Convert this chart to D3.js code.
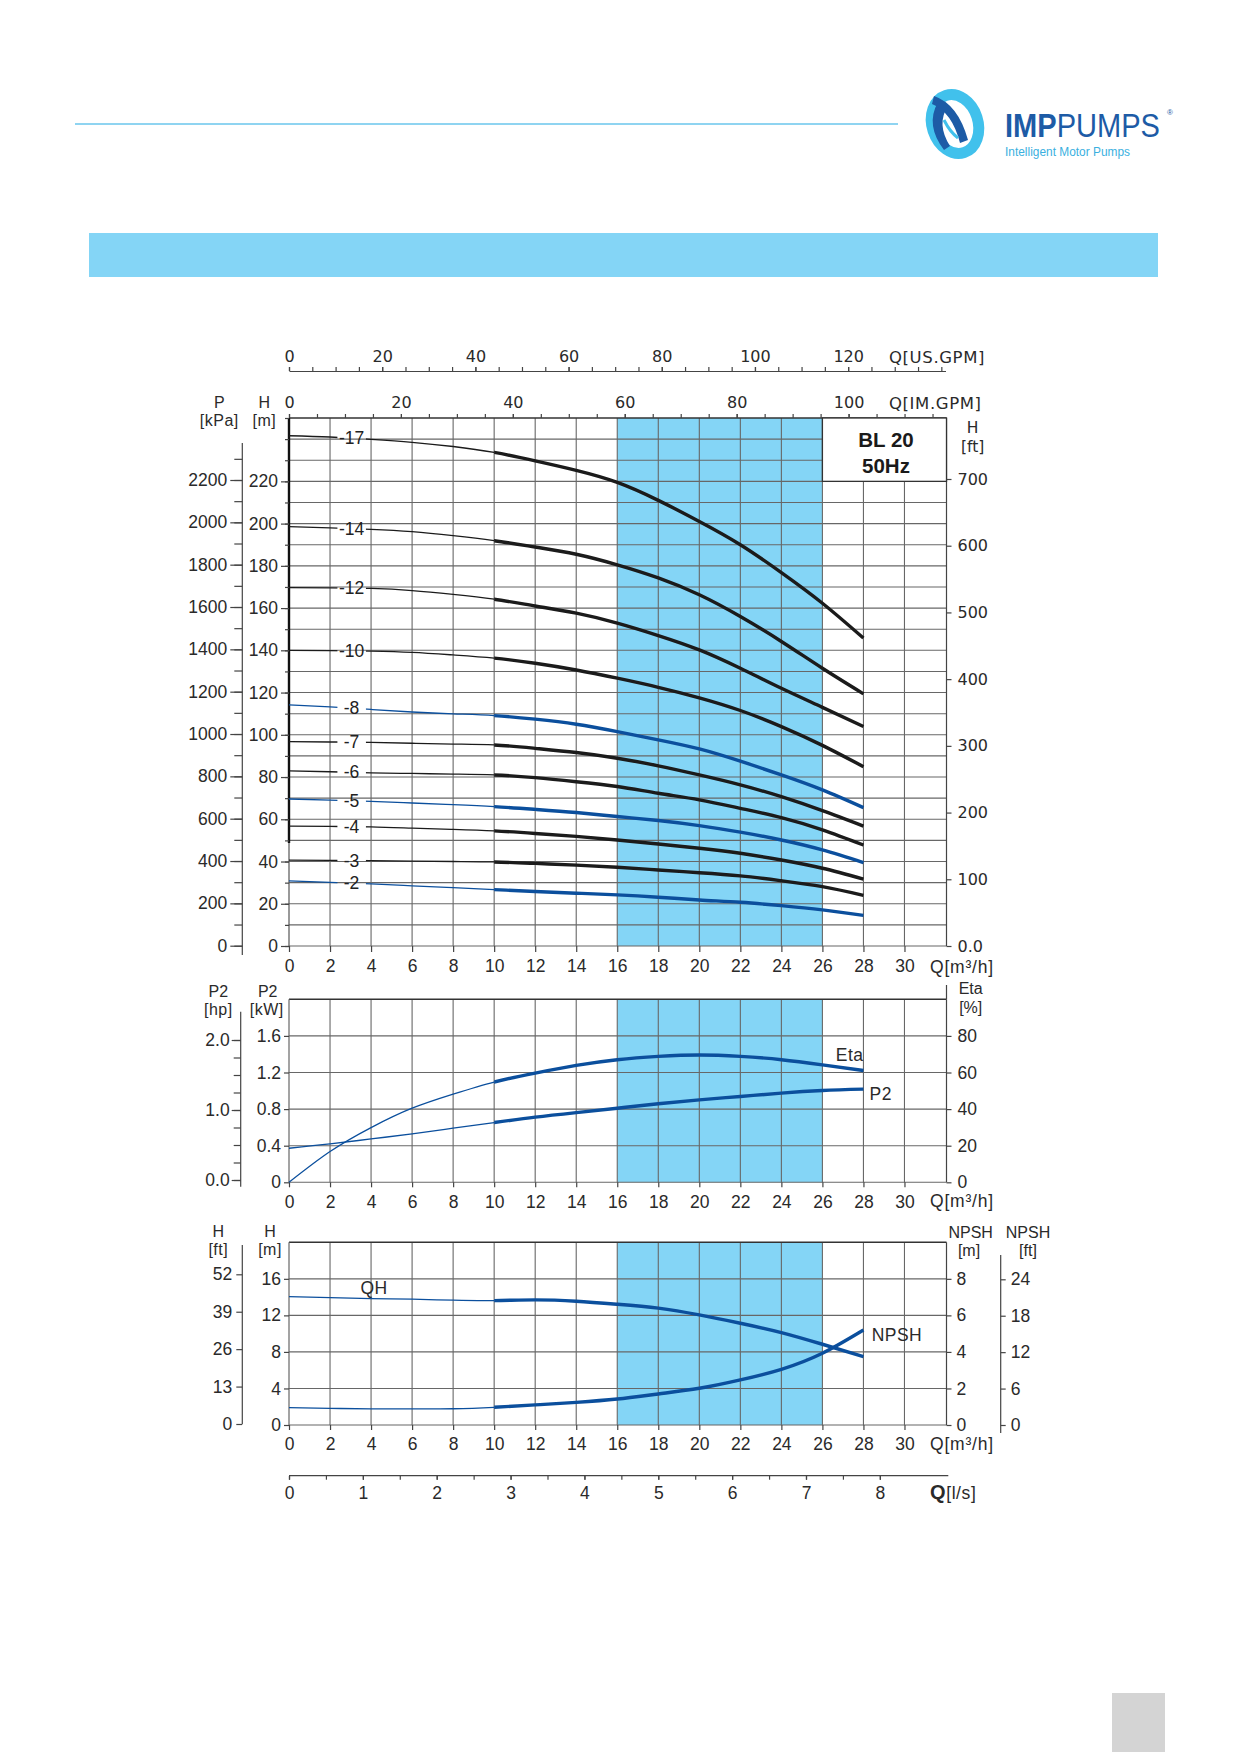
<!DOCTYPE html>
<html><head><meta charset="utf-8">
<script src="https://cdn.jsdelivr.net/npm/d3@7"></script>
<style>
html,body{margin:0;padding:0;background:#fff;}
svg{display:block;}
</style></head><body>
<svg id="c" width="1239" height="1752"></svg>
<script>
// ---------------- DATA ----------------
const flowQ = [0,2,4,6,8,10,12,14,16,18,20,22,24,26,28];          // m3/h
const stageLabels = ["-17","-14","-12","-10","-8","-7","-6","-5","-4","-3","-2"];
const headS17 = [241.6,241.0,239.9,238.5,236.5,233.7,229.7,225.2,219.5,211.0,201.0,190.0,176.8,162.3,145.8];
const headS14 = [198.6,198.0,197.3,196.2,194.3,191.9,188.9,185.5,180.5,174.3,166.3,156.0,144.2,131.5,119.4];
const headS12 = [169.7,169.6,169.3,168.3,166.5,164.2,161.0,157.6,152.9,147.0,140.2,131.5,122.0,113.0,103.9];
const headS10 = [140.0,139.9,139.6,139.0,137.8,136.3,133.9,130.7,126.8,122.5,117.5,111.5,103.9,95.0,84.9];
const headS8  = [114.2,113.2,112.0,110.8,109.9,109.1,107.4,105.0,101.5,97.6,93.3,87.5,81.0,73.9,65.5];
const headS7  = [96.8,96.6,96.4,96.0,95.6,95.2,93.6,91.6,88.9,85.3,81.0,76.3,70.7,64.1,56.8];
const headS6  = [82.9,82.5,82.0,81.7,81.4,81.0,79.7,77.8,75.5,72.3,69.2,65.2,60.8,55.0,47.8];
const headS5  = [69.6,69.1,68.5,67.7,66.9,66.0,64.7,63.2,61.3,59.4,57.0,53.9,50.2,45.5,39.5];
const headS4  = [56.8,56.6,56.4,55.8,55.2,54.5,53.3,51.9,50.2,48.3,46.3,43.9,40.7,36.8,31.7];
const headS3  = [40.7,40.5,40.4,40.2,40.0,39.8,39.1,38.3,37.3,36.0,34.7,33.2,30.9,28.1,24.0];
const headS2  = [30.8,30.1,29.4,28.5,27.6,26.7,25.8,25.0,24.2,23.1,21.8,20.7,19.1,17.1,14.5];
const stageHeads = [headS17,headS14,headS12,headS10,headS8,headS7,headS6,headS5,headS4,headS3,headS2];
const blueStages = ["-8","-5","-2"];

const etaPct  = [0,16.8,29.9,40.5,48.2,54.8,59.7,63.9,67.0,68.8,69.6,68.8,67.0,64.2,61.1];
const p2kW    = [0.372,0.419,0.474,0.529,0.591,0.653,0.712,0.762,0.810,0.858,0.901,0.938,0.975,1.003,1.018];
const qhHead  = [14.06,13.95,13.84,13.77,13.66,13.62,13.70,13.55,13.22,12.79,12.05,11.14,10.12,8.84,7.49];
const npshReq = [0.95,0.915,0.88,0.88,0.89,0.97,1.10,1.24,1.42,1.70,2.01,2.47,3.05,3.93,5.20];

const qTicks     = d3.range(0,31,2);
const hTicks     = d3.range(0,221,20);
const kPaTicks   = d3.range(0,2201,200);
const ftTicks    = d3.range(0,701,100);
const usGpmTicks = d3.range(0,121,20);
const imGpmTicks = d3.range(0,101,20);
const kWTicks    = [0,0.4,0.8,1.2,1.6];
const hpTicks    = [0,1,2];
const etaTicks   = [0,20,40,60,80];
const hSmallTicks= [0,4,8,12,16];
const ftSmallTicks=[0,13,26,39,52];
const npshMTicks = [0,2,4,6,8];
const npshFtTicks= [0,6,12,18,24];
const lpsTicks   = d3.range(0,9,1);
const dutyBand   = [16,26];

// ---------------- SETUP ----------------
const svg = d3.select("#c");
const ARIAL = "'Liberation Sans', Arial, sans-serif";
const DEJA = "'DejaVu Sans', Verdana, sans-serif";
const FS = 17.5, TS = 16;
const BLUE = "#0b4f9d", BLACK = "#1b1b1b", GRID = "#676767", BAND = "#84d5f6";

const x = d3.scaleLinear([0,32],[289,945.5]);
const X0 = x(0), X1 = 946.5;

const yH   = d3.scaleLinear([0,250],[946,418]);
const yKPa = d3.scaleLinear([0,2200],[945.7,480]);
const yFt  = d3.scaleLinear([0,700],[946,479]);
const usGpm = d3.scaleLinear([0,32*4.4029],[289,945.5]);
const imGpm = d3.scaleLinear([0,32*3.6662],[289,945.5]);
const yKW  = d3.scaleLinear([0,2],[1182.3,999.3]);
const yEta = d3.scaleLinear([0,100],[1182.3,999.3]);
const yHp  = d3.scaleLinear([0,2],[1180,1040]);
const yQH  = d3.scaleLinear([0,20],[1425,1242.3]);
const yNm  = d3.scaleLinear([0,10],[1425,1242.3]);
const yFtB = d3.scaleLinear([0,52],[1424,1274.3]);
const yNft = d3.scaleLinear([0,24],[1425,1279.3]);
const lps  = d3.scaleLinear([0,32/3.6],[289,945.5]);

function drawAxis(axis, tx, ty, o={}) {
  const g = svg.append("g").attr("transform",`translate(${tx},${ty})`).call(axis);
  if (!o.domain) g.select(".domain").remove(); else g.select(".domain").attr("stroke","#444").attr("stroke-width",1.2);
  g.selectAll(".tick line").attr("stroke","#444").attr("stroke-width",1.2);
  g.selectAll(".tick text").attr("font-family",o.font||ARIAL).attr("font-size",o.size||FS).attr("fill","#2a2a2a");
  g.selectAll(".tick text").filter(function(){return this.textContent==="";}).remove();
  return g;
}
function txt(s, tx, ty, o={}) {
  return svg.append("text").attr("x",tx).attr("y",ty).text(s)
    .attr("font-family",o.font||ARIAL).attr("font-size",o.size||FS)
    .attr("font-weight",o.weight||"normal").attr("fill",o.fill||"#2a2a2a")
    .attr("text-anchor",o.anchor||"middle").attr("letter-spacing",o.ls||0);
}
function vline(xx,y0,y1,c,w){svg.append("line").attr("x1",xx).attr("x2",xx).attr("y1",y0).attr("y2",y1).attr("stroke",c).attr("stroke-width",w);}
function hline(yy,x0,x1,c,w){svg.append("line").attr("x1",x0).attr("x2",x1).attr("y1",yy).attr("y2",yy).attr("stroke",c).attr("stroke-width",w);}
const intFmt = d3.format("d");

// ---------------- PAGE DECOR ----------------
hline(124, 75, 898, "#8fd4f1", 2);
svg.append("rect").attr("x",89).attr("y",233).attr("width",1069).attr("height",44).attr("fill","#84d5f6");
svg.append("rect").attr("x",1112).attr("y",1693).attr("width",53).attr("height",59).attr("fill","#d4d4d4");

// logo
const lg = svg.append("g");
lg.append("ellipse").attr("cx",955).attr("cy",124).attr("rx",23).attr("ry",30)
  .attr("transform","rotate(-18,955,124)").attr("fill","none").attr("stroke","#41c1ec").attr("stroke-width",11);
lg.append("path").attr("d","M 938 102 Q 925 125 944 150 L 950 146 Q 936 124 948 106 Z").attr("fill","#1d5ba6");
lg.append("path").attr("d","M 934 96 Q 958 104 968 140 L 960 143 Q 952 112 932 104 Z").attr("fill","#1d5ba6");
lg.append("path").attr("d","M 944 120 Q 950 132 958 138").attr("fill","none").attr("stroke","#41c1ec").attr("stroke-width",3);
const logoTxt = lg.append("text").attr("transform","translate(1005,136.5) scale(0.88,1)")
  .attr("font-family",ARIAL).attr("font-size",33).attr("fill","#1d5ba6");
logoTxt.append("tspan").attr("font-weight","bold").text("IMP");
logoTxt.append("tspan").text("PUMPS");
lg.append("text").attr("x",1167).attr("y",115).text("®").attr("font-family",ARIAL).attr("font-size",8).attr("fill","#1d5ba6");
lg.append("text").attr("x",1005).attr("y",155.5).text("Intelligent Motor Pumps").attr("font-family",ARIAL)
  .attr("font-size",12).attr("fill","#3ab0e0").attr("textLength",125).attr("lengthAdjust","spacingAndGlyphs");

// ---------------- BANDS & GRIDS ----------------
function plotFrame(yTop, yBot, hVals, yScale) {
  svg.append("rect").attr("x",x(dutyBand[0])).attr("y",yTop).attr("width",x(dutyBand[1])-x(dutyBand[0]))
    .attr("height",yBot-yTop).attr("fill",BAND);
  d3.range(2,32,2).forEach(q=>vline(x(q),yTop,yBot,GRID,1.1));
  hVals.forEach(v=>hline(yScale(v),X0,X1,GRID,1.1));
  hline(yTop,X0,X1,"#333",1.4);
  vline(X1,yTop,yBot,"#444",1.2);
}
plotFrame(418, 946, d3.range(0,250,10), yH);
plotFrame(999.3, 1182.3, [0,0.4,0.8,1.2,1.6], yKW);
plotFrame(1242.3, 1425, [0,4,8,12,16], yQH);

svg.append("rect").attr("x",x(26)).attr("y",yH(250)).attr("width",X1-x(26)).attr("height",yH(220)-yH(250))
  .attr("fill","#fff").attr("stroke","#333").attr("stroke-width",1.3);
txt("BL 20", 886, 447, {weight:"bold", size:20.5, fill:"#1a1a1a"});
txt("50Hz", 886, 473, {weight:"bold", size:20.5, fill:"#1a1a1a"});

vline(X0,418,843,"#111",2.4);
vline(X0,843,946,"#555",1.2);
vline(X0,999.3,1182.3,"#666",1.2);
vline(X0,1242.3,1425,"#666",1.2);

// ---------------- AXES: TOP PLOT ----------------
drawAxis(d3.axisLeft(yH).tickValues(d3.range(0,251,10)).tickSize(4).tickFormat(""), X0, 0);
drawAxis(d3.axisLeft(yH).tickValues(hTicks).tickSize(8).tickPadding(3).tickFormat(intFmt), X0, 0);
vline(242.3,443,955,"#444",1.2);
drawAxis(d3.axisLeft(yKPa).tickValues(d3.range(0,2301,100)).tickSize(8).tickFormat(""), 242.3, 0);
drawAxis(d3.axisLeft(yKPa).tickValues(kPaTicks).tickSize(12).tickPadding(3).tickFormat(intFmt), 242.3, 0);
drawAxis(d3.axisRight(yFt).tickValues(ftTicks).tickSize(5).tickPadding(6).tickFormat(d=>d===0?"0.0":intFmt(d)), X1, 0, {font:DEJA, size:16});
drawAxis(d3.axisBottom(x).tickValues(qTicks).tickSize(6).tickPadding(8).tickFormat(intFmt), 0, 946);
drawAxis(d3.axisTop(usGpm).tickValues(d3.range(0,141,5)).tickSize(4).tickFormat("").tickSizeOuter(0), 0, 371, {domain:true});
drawAxis(d3.axisTop(usGpm).tickValues(usGpmTicks).tickSize(4).tickPadding(5).tickFormat(intFmt), 0, 371, {font:DEJA, size:16});
drawAxis(d3.axisTop(imGpm).tickValues(d3.range(0,116,5)).tickSize(4).tickFormat(""), 0, 418);
drawAxis(d3.axisTop(imGpm).tickValues(imGpmTicks).tickSize(4).tickPadding(6).tickFormat(intFmt), 0, 418, {font:DEJA, size:16});

txt("Q[US.GPM]", 889, 363, {anchor:"start", font:DEJA, size:16.5, ls:0.6});
txt("Q[IM.GPM]", 889, 408.5, {anchor:"start", font:DEJA, size:16.5, ls:0.6});
txt("P", 219.3, 408, {size:TS}); txt("[kPa]", 219.3, 426, {ls:0.5, size:TS});
txt("H", 264.3, 408, {size:TS}); txt("[m]", 264.3, 426, {ls:0.5, size:TS});
txt("H", 972.7, 433, {font:DEJA, size:15.5}); txt("[ft]", 972.7, 452, {font:DEJA, size:15.5});
txt("Q[m³/h]", 930, 972.5, {anchor:"start", ls:0.8});

// ---------------- AXES: MIDDLE ----------------
drawAxis(d3.axisLeft(yKW).tickValues(kWTicks).tickSize(5).tickPadding(3).tickFormat(d=>d===0?"0":d3.format(".1f")(d)), X0, 0);
vline(240.7,1011.7,1186.7,"#444",1.2);
drawAxis(d3.axisLeft(yHp).tickValues(d3.range(0,2.01,0.25)).tickSize(7).tickFormat(""), 240.7, 0);
drawAxis(d3.axisLeft(yHp).tickValues(hpTicks).tickSize(9).tickPadding(2).tickFormat(d3.format(".1f")), 240.7, 0);
drawAxis(d3.axisRight(yEta).tickValues(etaTicks).tickSize(5).tickPadding(6).tickFormat(intFmt), X1, 0);
drawAxis(d3.axisBottom(x).tickValues(qTicks).tickSize(5).tickPadding(8).tickFormat(intFmt), 0, 1182.3);
vline(X1,985,999.3,"#444",1.2);
txt("P2", 218.3, 996.5, {size:TS}); txt("[hp]", 218.3, 1014.5, {ls:0.5, size:TS});
txt("P2", 267.7, 996.5, {size:TS}); txt("[kW]", 266.7, 1014.5, {ls:0.5, size:TS});
txt("Eta", 970.7, 994, {size:TS}); txt("[%]", 970.7, 1012.5, {size:TS});
txt("Q[m³/h]", 930, 1207, {anchor:"start", ls:0.8});

// ---------------- AXES: BOTTOM ----------------
drawAxis(d3.axisLeft(yQH).tickValues(hSmallTicks).tickSize(5).tickPadding(3).tickFormat(intFmt), X0, 0);
vline(242.3,1245,1424,"#444",1.2);
drawAxis(d3.axisLeft(yFtB).tickValues(ftSmallTicks).tickSize(6).tickPadding(4).tickFormat(intFmt), 242.3, 0);
drawAxis(d3.axisRight(yNm).tickValues(npshMTicks).tickSize(5).tickPadding(5).tickFormat(intFmt), X1, 0);
vline(1000.7,1255,1433,"#444",1.2);
drawAxis(d3.axisRight(yNft).tickValues(npshFtTicks).tickSize(5).tickPadding(5).tickFormat(intFmt), 1000.7, 0);
drawAxis(d3.axisBottom(x).tickValues(qTicks).tickSize(5).tickPadding(8).tickFormat(intFmt), 0, 1425);
drawAxis(d3.axisBottom(lps).tickValues(d3.range(0,8.01,0.5)).tickSize(4).tickFormat("").tickSizeOuter(0), 0, 1475.7);
hline(1475.7, 289, 948.3, "#444", 1.2);
drawAxis(d3.axisBottom(lps).tickValues(lpsTicks).tickSize(4).tickPadding(7).tickFormat(intFmt), 0, 1475.7);
txt("H", 218.3, 1237, {size:TS}); txt("[ft]", 218.3, 1255, {ls:0.5, size:TS});
txt("H", 270, 1237, {size:TS}); txt("[m]", 270, 1255, {ls:0.5, size:TS});
txt("NPSH", 970.7, 1238, {size:TS}); txt("[m]", 969, 1256, {size:TS});
txt("NPSH", 1028, 1238, {size:TS}); txt("[ft]", 1028, 1256, {size:TS});
txt("Q[m³/h]", 930, 1450, {anchor:"start", ls:0.8});
const lpsLab = svg.append("text").attr("x",930).attr("y",1498.5).attr("font-family",ARIAL).attr("font-size",FS).attr("fill","#2a2a2a").attr("letter-spacing",0.6);
lpsLab.append("tspan").attr("font-weight","900").attr("font-size",20).text("Q");
lpsLab.append("tspan").text("[l/s]");

// ---------------- CLIPS ----------------
const defs = svg.append("defs");
const cGap = defs.append("clipPath").attr("id","thinGap");
cGap.append("rect").attr("x",X0-3).attr("y",400).attr("width",x(2.36)-X0+3).attr("height",560);
cGap.append("rect").attr("x",x(3.75)).attr("y",400).attr("width",x(10)-x(3.75)).attr("height",560);
defs.append("clipPath").attr("id","thinAll").append("rect").attr("x",X0-3).attr("y",980).attr("width",x(10)-X0+3).attr("height",460);
defs.append("clipPath").attr("id","thick").append("rect").attr("x",x(10)).attr("y",400).attr("width",700).attr("height",1100);

function drawCurve(vals, yScale, color, thinClip) {
  const pts = flowQ.map((q,i)=>[q, vals[i]]);
  const ln = d3.line().x(d=>x(d[0])).y(d=>yScale(d[1])).curve(d3.curveNatural);
  svg.append("path").attr("d",ln(pts)).attr("fill","none").attr("stroke",color).attr("stroke-width",1.3)
    .attr("clip-path",`url(#${thinClip})`);
  svg.append("path").attr("d",ln(pts)).attr("fill","none").attr("stroke",color).attr("stroke-width",3.4)
    .attr("stroke-linecap","butt").attr("clip-path","url(#thick)");
}

stageHeads.forEach((h,i)=>{
  const lab = stageLabels[i];
  const col = blueStages.includes(lab) ? BLUE : BLACK;
  drawCurve(h, yH, col, "thinGap");
  svg.append("text").attr("x",x(3.05)).attr("y",yH((h[1]+h[2])/2)).attr("dy","0.35em").text(lab)
    .attr("text-anchor","middle").attr("font-family",ARIAL).attr("font-size",FS).attr("fill","#222");
});

drawCurve(etaPct, yEta, BLUE, "thinAll");
drawCurve(p2kW, yKW, BLUE, "thinAll");
txt("Eta", x(26.65), yEta(69.5)+6, {anchor:"start", ls:0.5});
txt("P2", x(28.3), yKW(0.97)+6, {anchor:"start", ls:0.5});

drawCurve(qhHead, yQH, BLUE, "thinAll");
drawCurve(npshReq, yNm, BLUE, "thinAll");
txt("QH", x(4.15), yQH(14.98)+6, {ls:0.5});
txt("NPSH", x(28.4), yNm(9.86/2)+6, {anchor:"start", ls:0.5});
</script>
</body></html>
